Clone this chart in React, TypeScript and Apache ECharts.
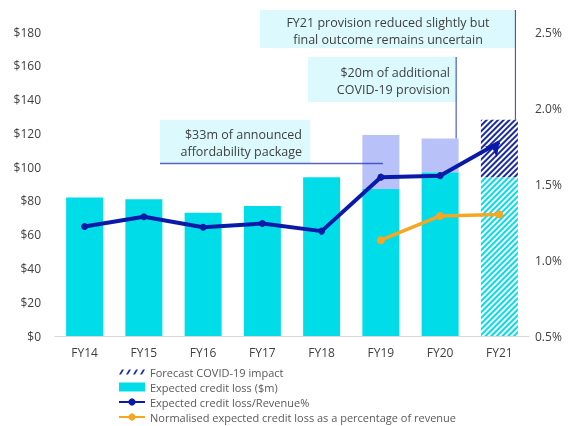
import React, { useEffect, useRef } from "react";
import * as echarts from "echarts";

const categories = ["FY14", "FY15", "FY16", "FY17", "FY18", "FY19", "FY20", "FY21"];
const eclValues = [82, 81, 73, 77, 94, 87, 97, 94];
const additionalProvision = [null, null, null, null, null, 32, 20, null];
const forecastImpact = [null, null, null, null, null, null, null, 34];
const eclRevenuePct = [1.22, 1.285, 1.215, 1.24, 1.19, 1.545, 1.555, 1.775];
const normalisedPct = [null, null, null, null, null, 1.13, 1.29, 1.3];
const leftTicks = { min: 0, max: 180, interval: 20 };
const rightTicks = { min: 0.5, max: 2.5, interval: 0.5 };

const CYAN = "#00dde9";
const NAVY = "#0a1aa8";
const HATCH_NAVY = "#1a2aa0";
const LAVENDER = "#b9c1f9";
const ORANGE = "#f5a623";
const BOX = "#dcfafd";
const ANN_LINE = "#2b3cc4";
const FONT = "'Open Sans', 'Noto Sans', sans-serif";

export default function App() {
  const ref = useRef<HTMLDivElement>(null);
  useEffect(() => {
    if (!ref.current) return;
    const chart = echarts.init(ref.current, null, { renderer: "svg" });
    const last = categories.length - 1;
    const stripe = (color: string) => ({
      color,
      symbol: "rect",
      symbolSize: 1,
      dashArrayX: [1, 0],
      dashArrayY: [2, 2],
      rotation: -Math.PI / 4,
    });
    const option: any = {
      animation: false,
      textStyle: { fontFamily: FONT },
      grid: { left: 55, right: 47, top: 32, bottom: 90 },
      legend: {
        orient: "vertical",
        left: 118,
        top: 366,
        height: 90,
        padding: 0,
        itemWidth: 26,
        itemHeight: 9,
        itemGap: 3,
        textStyle: { fontSize: 11, lineHeight: 12, color: "#595959", fontFamily: FONT },
        data: [
          {
            name: "Forecast COVID-19 impact",
            icon: "path://M0,5 L3,0 L5,0 L2,5 Z M7,5 L10,0 L12,0 L9,5 Z M14,5 L17,0 L19,0 L16,5 Z M21,5 L24,0 L26,0 L23,5 Z",
            itemStyle: { color: HATCH_NAVY, decal: "none" },
          },
          { name: "Expected credit loss ($m)", icon: "rect" },
          { name: "Expected credit loss/Revenue%" },
          { name: "Normalised expected credit loss as a percentage of revenue" },
        ],
      },
      xAxis: {
        type: "category",
        data: categories,
        axisLine: { lineStyle: { color: "#d9d9d9", width: 1 } },
        axisTick: { show: false },
        axisLabel: { color: "#404040", fontSize: 12, margin: 10 },
      },
      yAxis: [
        {
          type: "value",
          ...leftTicks,
          splitLine: { show: false },
          axisLine: { show: false },
          axisTick: { show: false },
          axisLabel: { color: "#404040", fontSize: 12, margin: 14, formatter: (v: number) => "$" + v },
        },
        {
          type: "value",
          ...rightTicks,
          splitLine: { show: false },
          axisLine: { show: false },
          axisTick: { show: false },
          axisLabel: { color: "#404040", fontSize: 12, margin: 6, formatter: (v: number) => v.toFixed(1) + "%" },
        },
      ],
      series: [
        {
          name: "Expected credit loss ($m)",
          type: "bar",
          stack: "ecl",
          barWidth: 37,
          itemStyle: { color: CYAN },
          data: eclValues.map((v, i) =>
            i === last ? { value: v, itemStyle: { color: "#ffffff", decal: stripe(CYAN) } } : v
          ),
        },
        {
          name: "Additional provision",
          type: "bar",
          stack: "ecl",
          barWidth: 37,
          itemStyle: { color: LAVENDER },
          data: additionalProvision.map((v) => (v == null ? "-" : v)),
        },
        {
          name: "Forecast COVID-19 impact",
          type: "bar",
          stack: "ecl",
          barWidth: 37,
          itemStyle: { color: "#ffffff", decal: stripe(HATCH_NAVY) },
          data: forecastImpact.map((v) => (v == null ? "-" : v)),
        },
        {
          name: "Expected credit loss/Revenue%",
          type: "line",
          yAxisIndex: 1,
          symbol: "circle",
          symbolSize: 7,
          itemStyle: { color: NAVY },
          lineStyle: { color: NAVY, width: 4 },
          z: 5,
          data: eclRevenuePct.map((v, i) =>
            i === last ? { value: v, symbol: "arrow", symbolSize: [12, 13], symbolRotate: -41 } : v
          ),
        },
        {
          name: "Normalised expected credit loss as a percentage of revenue",
          type: "line",
          yAxisIndex: 1,
          symbol: "circle",
          symbolSize: 8,
          itemStyle: { color: ORANGE },
          lineStyle: { color: ORANGE, width: 3.5 },
          z: 4,
          data: normalisedPct.map((v) => (v == null ? "-" : v)),
        },
      ],
    };
    chart.setOption(option);

    const px = (cat: string, val: number) =>
      chart.convertToPixel({ xAxisIndex: 0, yAxisIndex: 0 }, [cat, val]) as number[];
    const fy19Top = px("FY19", eclValues[5] + (additionalProvision[5] as number));
    const fy20Top = px("FY20", eclValues[6] + (additionalProvision[6] as number));
    const fy21Top = px("FY21", eclValues[7] + (forecastImpact[7] as number));

    const textStyle = (align: string) => ({
      fontSize: 12.5,
      fill: "#404040",
      fontFamily: FONT,
      align,
      verticalAlign: "middle",
    });

    chart.setOption({
      graphic: [
        // Box 1
        { type: "rect", shape: { x: 260, y: 10, width: 255, height: 38 }, style: { fill: BOX }, z: 10 },
        { type: "text", x: 388, y: 22, style: { text: "FY21 provision reduced slightly but", ...textStyle("center") }, z: 11 },
        { type: "text", x: 388, y: 39, style: { text: "final outcome remains uncertain", ...textStyle("center") }, z: 11 },
        {
          type: "line",
          shape: { x1: fy21Top[0] + 16, y1: 10, x2: fy21Top[0] + 16, y2: fy21Top[1] },
          style: { stroke: ANN_LINE, lineWidth: 1 },
          z: 11,
        },
        // Box 2
        { type: "rect", shape: { x: 308, y: 57, width: 149, height: 45 }, style: { fill: BOX }, z: 10 },
        { type: "text", x: 450, y: 72, style: { text: "$20m of additional", ...textStyle("right") }, z: 11 },
        { type: "text", x: 450, y: 89, style: { text: "COVID-19 provision", ...textStyle("right") }, z: 11 },
        {
          type: "line",
          shape: { x1: fy20Top[0] + 16, y1: 57, x2: fy20Top[0] + 16, y2: fy20Top[1] },
          style: { stroke: ANN_LINE, lineWidth: 1 },
          z: 11,
        },
        // Box 3
        { type: "rect", shape: { x: 160, y: 120, width: 150, height: 43 }, style: { fill: BOX }, z: 10 },
        { type: "text", x: 302, y: 134, style: { text: "$33m of announced", ...textStyle("right") }, z: 11 },
        { type: "text", x: 302, y: 151, style: { text: "affordability package", ...textStyle("right") }, z: 11 },
        {
          type: "line",
          shape: { x1: 160, y1: 163.5, x2: fy19Top[0] + 2, y2: 163.5 },
          style: { stroke: ANN_LINE, lineWidth: 1.5, opacity: 0.8 },
          z: 11,
        },
      ],
    });

    return () => chart.dispose();
  }, []);
  return <div ref={ref} style={{ position: "fixed", left: 0, top: 0, width: 576, height: 426 }} />;
}
